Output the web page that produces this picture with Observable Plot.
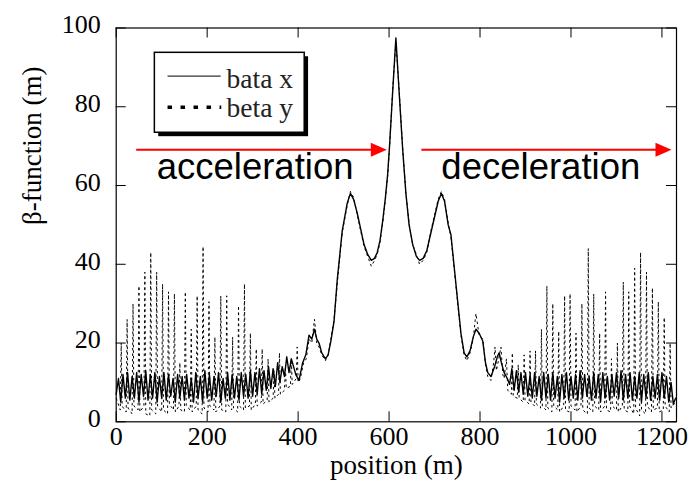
<!DOCTYPE html>
<html><head><meta charset="utf-8">
<script src="https://cdn.jsdelivr.net/npm/d3@7"></script>
<script src="https://cdn.jsdelivr.net/npm/@observablehq/plot@0.6"></script>
<style>body{margin:0;background:#fff} svg{display:block}</style>
</head><body><div id="chart"></div>
<script>
// beta x (solid) : positions (m) and values (m)
const betaXPos = [
0,5,10,15,20,25,30,35,40,45,
50,55,60,65,70,75,80,85,90,95,
100,105,110,115,120,125,130,135,140,145,
150,155,160,165,170,175,180,185,190,195,
200,205,210,215,220,225,230,235,240,245,
250,255,260,265,270,275,280,285,290,295,
300,305,310,315,320,325,330,335,340,345,
350,355,360,365,370,375,380,385,
390,395,402,410,417,424,430,436,441,446,
452,460,466,472,479,486,497,508,515,522,
530,545,553,561,568,574,580,586,592,597,
601,608,615,622,630,637,644,652,660,667,
675,683,692,700,708,715,722,730,736,747,
758,765,771,778,785,791,798,806,812,817,
824,832,838,842,847,853,860,
865,870,875,880,885,890,895,900,905,910,
915,920,925,930,935,940,945,950,955,960,
965,970,975,980,985,990,995,1000,1005,1010,
1015,1020,1025,1030,1035,1040,1045,1050,1055,1060,
1065,1070,1075,1080,1085,1090,1095,1100,1105,1110,
1115,1120,1125,1130,1135,1140,1145,1150,1155,1160,
1165,1170,1175,1180,1185,1190,1195,1200,1205,1210,
1215,1220,1225,1230];
const betaXVal = [
7,11,5,12,6,12.5,5.5,11.5,6,12.5,
5,12,6.5,13,5.5,12,6,12.5,5,11.5,
6,12.5,5.5,12,6.5,11,5,12,6,11.5,
5.5,12,6,11,5,12.5,6,11.5,5,13,
6,12,5.5,11.5,6.5,12.5,5,11,6,12.5,
5.5,12,6,11.5,5.5,12.5,6.5,12,6,13,
6.5,12.5,7,13.5,7,13,8,14,8.5,13.5,
9,15,10,14,11.5,16.5,12.5,16,
14,12,10.5,15,17,22,21,23.5,21,20,
17.5,16,17,20.5,25.5,36,48.5,55.5,58,56.5,
53,45,42.5,41,41.5,43,46,51,57,63,
70,84,97.5,84,69,58,50,45,42,41,
41.5,43.5,48,52,56,58,56,50,47.5,35,
22.5,17.5,16.5,18,21.5,23.5,22.5,20.5,15,12.5,
11.5,14,16.5,17.5,15,12.5,11,
9.5,13.5,8,13,7.5,12.5,7,12.5,6.5,12,
6,12.5,6.5,11.5,5.5,12.5,6,12,5.5,12.5,
6,11.5,5,12,6,12.5,5.5,11.5,6,12,
5.5,13,6,12,6.5,11.5,5.5,12.5,6,12,
5,12.5,6,11.5,5.5,12,6.5,12.5,6,13,
5.5,12,6,12.5,5.5,11.5,6,12.5,5,12,
6,12.5,5.5,11.5,6,12,5.5,12.5,6,11.5,
5,10,4.5,6];

// beta y (dotted) : positions (m) and values (m)
const betaYPos = [
0,9,11,13,22,24,26,35,37,39,
48,50,52,61,63,65,74,76,78,87,
89,91,100,102,104,113,115,117,126,128,
130,138,140,142,150,152,154,163,165,167,
176,178,180,189,191,193,202,204,206,215,
217,219,228,230,232,241,243,245,254,256,
258,267,269,271,280,282,284,293,295,297,
306,308,310,319,321,323,332,334,336,345,
347,349,357,359,361,370,372,374,383,385,
387,396,398,400,
405,412,418,424,430,436,441,446,452,460,
466,472,479,486,497,508,515,522,530,545,
553,561,568,574,580,586,592,597,601,608,
615,622,630,637,644,652,660,667,675,683,
692,700,708,715,722,730,736,747,758,765,
771,778,785,791,798,806,812,817,824,830,
833,836,842,846,850,853,858,861,
869,871,873,882,884,886,895,897,899,908,
910,912,920,922,924,933,935,937,945,947,
949,958,960,962,971,973,975,984,986,988,
996,998,1000,1009,1011,1013,1022,1024,1026,1036,
1038,1040,1048,1050,1052,1061,1063,1065,1074,1076,
1078,1087,1089,1091,1100,1102,1104,1113,1115,1117,
1125,1127,1129,1138,1140,1142,1151,1153,1155,1164,
1166,1168,1177,1179,1181,1190,1192,1194,1203,1205,
1207,1216,1218,1220,1230];
const betaYVal = [
6,3,20,4,2.5,26,3.5,2,30,4,
3,34.5,2.5,4,38,2,1.5,43,3,2,
38,4,2.5,35,3,2,33,4.5,3,32.5,
2.5,4,15,3,2.5,33,4,3,23.5,2.5,
4,32,3,2,44.5,3.5,2.5,30.5,4,3,
21.5,2.5,4,32,3,2.5,32,4.5,3,21.5,
3.5,2.5,29.5,4,3,35,3.5,4,22.5,3,
4.5,18.5,4,5,18.5,4.5,5.5,16,5,6,
13,6,7,17.5,7,8,14,8.5,9,16,
9.5,11,19,10,
11,15,16,21,20,26,20,19,17,15.5,
17,21,26,35,48,55,58.5,57,52.5,44.5,
42,39.5,41,42.5,45.5,50.5,56.5,62.5,69.5,84.5,
96.5,84.5,69.5,58,50.5,45,42.5,40,41,43,
48.5,52.5,56.5,58.5,56.5,50.5,47,34.5,22,17,
15.5,17.5,21,27.5,22,21,14.5,11.5,10.5,15,
19,13,16.5,19,12,11,16,8,
7,17.5,6.5,6,14.5,6,5,17,5.5,4.5,
18,5,4,18,4.5,3.5,23.5,4,3,34.5,
3.5,2.5,30,4,3,23,2.5,4,32,3,
2.5,32.5,4,3,22.5,2.5,4,30,3,2,
44,3.5,2.5,32.5,4,3,22.5,2.5,4,33,
3,2.5,16,4,3,20,2.5,4,35.5,3,
2.5,33,4,2,39,3.5,1.5,43,3,2,
38,4,2.5,34,3,3.5,30.5,2.5,3,26.5,
4,2.5,20,3.5,5];

const xTicks = [0, 200, 400, 600, 800, 1000, 1200];
const yTicks = [0, 20, 40, 60, 80, 100];
const seriesNames = ["bata x", "beta y"];
const annoLabels = ["acceleration", "deceleration"];

// annotation placement (data coordinates)
const annoTextX = [89, 715];
const annoTextY = 61.7;
const arrowX1 = [44, 671];
const arrowX2 = [595, 1221];
const arrowY = 69.1;
const arrows = arrowX1.map((x1, i) => ({x1, x2: arrowX2[i], y: arrowY}));
const legendBox = {x1: 85, x2: 414.5, y1: 73.4, y2: 93.7};
const shadow = {dx: 8.5, dy: -1.0};

const arrowHead = {draw(ctx) { ctx.moveTo(0, 0); ctx.lineTo(-16, -7); ctx.lineTo(-16, 7); ctx.closePath(); }};
const serif = "'Liberation Serif', 'Times New Roman', serif";
const sans = "'Liberation Sans', Arial, sans-serif";

const plot = Plot.plot({
  width: 693,
  height: 489,
  marginLeft: 115.7,
  marginRight: 17,
  marginTop: 27.5,
  marginBottom: 67.7,
  style: {fontFamily: serif, fontSize: "26px", background: "white", color: "black"},
  x: {domain: [0, 1232]},
  y: {domain: [0, 100]},
  marks: [
    Plot.line(betaYVal, {x: betaYPos, y: betaYVal, stroke: "black", strokeWidth: 1, strokeDasharray: "2.5,3", strokeLinecap: "butt"}),
    Plot.line(betaXVal, {x: betaXPos, y: betaXVal, stroke: "black", strokeWidth: 1.4}),
    // inward ticks on all four sides
    Plot.ruleX(xTicks, {x: d => d, y1: 0, y2: 2.54, stroke: "black"}),
    Plot.ruleX(xTicks, {x: d => d, y1: 97.46, y2: 100, stroke: "black"}),
    Plot.ruleY(yTicks, {y: d => d, x1: 0, x2: 22, stroke: "black"}),
    Plot.ruleY(yTicks, {y: d => d, x1: 1210, x2: 1232, stroke: "black"}),
    Plot.frame({stroke: "black", strokeWidth: 1.2}),
    Plot.axisX(xTicks, {tickSize: 0, tickPadding: 5, tickFormat: d => String(d), fontSize: 26, fontFamily: serif, label: null}),
    Plot.axisY(yTicks, {tickSize: 0, tickPadding: 15.5, dy: -3, tickFormat: d => String(d), fontSize: 26, fontFamily: serif, label: null}),
    Plot.text(["position (m)"], {text: d => d, frameAnchor: "bottom", dy: 52, lineAnchor: "bottom", fontSize: 27, fontFamily: serif, fill: "black"}),
    Plot.text(["β-function (m)"], {text: d => d, frameAnchor: "left", dx: -84, rotate: -90, lineAnchor: "middle", fontSize: 27, fontFamily: serif, fill: "black"}),
    // legend
    Plot.rect([legendBox], {x1: d => d.x1 + shadow.dx, x2: d => d.x2 + shadow.dx, y1: d => d.y1 + shadow.dy, y2: d => d.y2 + shadow.dy, fill: "black"}),
    Plot.rect([legendBox], {x1: "x1", x2: "x2", y1: "y1", y2: "y2", fill: "white", stroke: "black", strokeWidth: 1.5}),
    Plot.link([0], {x1: 112.9, x2: 229.7, y1: 87.8, y2: 87.8, stroke: "#333", strokeWidth: 1.3}),
    Plot.link([0], {x1: 112.9, x2: 231, y1: 79.9, y2: 79.9, stroke: "black", strokeWidth: 3.5, strokeDasharray: "4.5,8.5", strokeLinecap: "butt"}),
    Plot.text(seriesNames, {text: d => d, x: 242.7, y: [84.8, 77.5], textAnchor: "start", lineAnchor: "bottom", fontSize: 27.5, fontFamily: serif, fill: "#222"}),
    // arrows and labels
    Plot.link(arrows, {x1: "x1", x2: d => d.x2 - 12, y1: "y", y2: "y", stroke: "red", strokeWidth: 2, strokeLinecap: "butt"}),
    Plot.dot(arrows, {x: "x2", y: "y", symbol: arrowHead, fill: "red", stroke: null, r: 6}),
    Plot.text(annoLabels, {text: d => d, x: annoTextX, y: [annoTextY, annoTextY], textAnchor: "start", lineAnchor: "bottom", fontSize: 36.5, fontFamily: sans, fill: "black"})
  ]
});
document.getElementById("chart").appendChild(plot);
</script>
</body></html>
